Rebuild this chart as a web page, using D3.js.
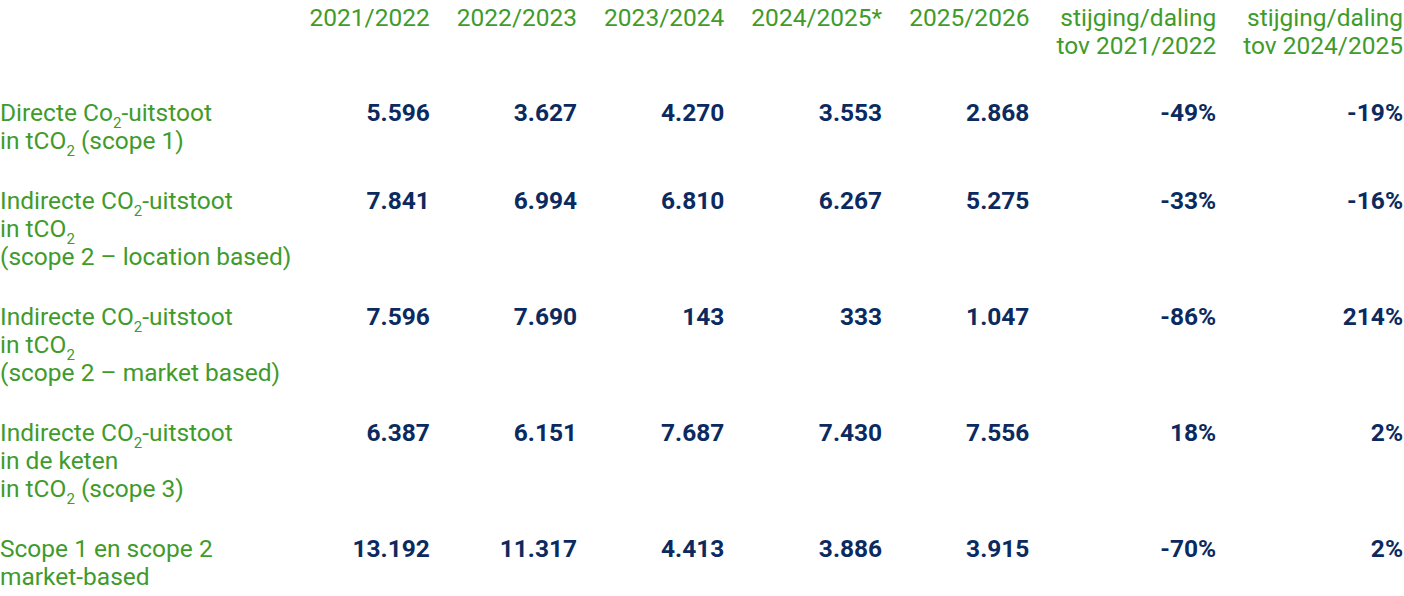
<!DOCTYPE html>
<html>
<head>
<meta charset="utf-8">
<script src="https://cdn.jsdelivr.net/npm/d3@7"></script>
<style>
  body { margin: 0; background: #fff; }
  svg { display: block; font-family: Roboto, sans-serif; }
  .lbl { fill: #3f9b2b; font-size: 24.5px; font-weight: 400; }
  .val { fill: #0b2a5f; font-size: 24.5px; font-weight: 700; }
</style>
</head>
<body>
<svg id="table"></svg>
<script>
// Column headers (each entry = lines of the header)
var columns = [
    ["2021/2022"],
    ["2022/2023"],
    ["2023/2024"],
    ["2024/2025*"],
    ["2025/2026"],
    ["stijging/daling", "tov 2021/2022"],
    ["stijging/daling", "tov 2024/2025"]
];

// Row labels, "_2" marks a subscript 2
var rowLabels = [
    ["Directe Co_2-uitstoot", "in tCO_2 (scope 1)"],
    ["Indirecte CO_2-uitstoot", "in tCO_2", "(scope 2 – location based)"],
    ["Indirecte CO_2-uitstoot", "in tCO_2", "(scope 2 – market based)"],
    ["Indirecte CO_2-uitstoot", "in de keten", "in tCO_2 (scope 3)"],
    ["Scope 1 en scope 2", "market-based"]
];

// Values per column (tCO2)
var v2122 = [5596, 7841, 7596, 6387, 13192];
var v2223 = [3627, 6994, 7690, 6151, 11317];
var v2324 = [4270, 6810, 143, 7687, 4413];
var v2425 = [3553, 6267, 333, 7430, 3886];
var v2526 = [2868, 5275, 1047, 7556, 3915];
// Change in percent
var chg2122 = [-49, -33, -86, 18, -70];
var chg2425 = [-19, -16, 214, 2, 2];

var w = 1404;
var h = 596;
var lineH = 28;
var rowGap = 32;
var colGap = 27;
var headBase = 26;
var firstRowBase = 121;
var subShift = 7;

var nl = d3.formatLocale({
    decimal: ",", thousands: ".", grouping: [3], currency: ["€", ""], minus: "-"
});
var fmtNum = nl.format(",d");
var fmtPct = function(d) { return nl.format("d")(d) + "%"; };

var series = [v2122, v2223, v2324, v2425, v2526, chg2122, chg2425];
var formats = [fmtNum, fmtNum, fmtNum, fmtNum, fmtNum, fmtPct, fmtPct];

var svg = d3.select("#table").attr("width", w).attr("height", h);

// write a line of text, turning "_2" into a subscript
var writeLine = function(sel, str) {
    var lowered = false;
    str.split(/(_2)/).forEach(function(part) {
        if (part === "_2") {
            sel.append("tspan")
                .attr("font-size", 15)
                .attr("dy", subShift)
                .text("2");
            lowered = true;
        } else if (part.length) {
            var t = sel.append("tspan").text(part);
            if (lowered) {
                t.attr("dy", -subShift);
                lowered = false;
            }
        }
    });
};

// Row baselines from the number of lines in each row
var rowTops = [];
rowLabels.reduce(function(y, lines) {
    rowTops.push(y);
    return y + lines.length * lineH + rowGap;
}, firstRowBase);

// Measure each column's widest text so columns are laid out from the right
var measure = svg.append("g");
var colWidths = columns.map(function(head, ci) {
    var texts = head.concat(series[ci].map(formats[ci]));
    return d3.max(texts, function(t, i) {
        var node = measure.append("text")
            .attr("class", i < head.length ? "lbl" : "val")
            .text(t).node();
        return node.getComputedTextLength();
    });
});
measure.remove();

var colRight = [];
var r = w - 1;
for (var ci = columns.length - 1; ci >= 0; ci--) {
    colRight[ci] = r;
    r -= colWidths[ci] + colGap;
}
var x = d3.scaleOrdinal().domain(d3.range(columns.length)).range(colRight);
var y = d3.scaleOrdinal().domain(d3.range(rowLabels.length)).range(rowTops);

// Headers
var head = svg.append("g").selectAll("text")
    .data(columns)
    .enter()
    .append("text")
    .attr("class", "lbl")
    .attr("text-anchor", "end")
    .attr("transform", function(d, i) {
        return "translate(" + x(i) + "," + headBase + ")";
    });
head.selectAll("tspan")
    .data(function(d) { return d; })
    .enter()
    .append("tspan")
    .attr("x", 0)
    .attr("y", function(d, i) { return i * lineH; })
    .text(function(d) { return d; });

// Row labels
svg.append("g").selectAll("g")
    .data(rowLabels)
    .enter()
    .append("g")
    .attr("transform", function(d, i) { return "translate(0," + y(i) + ")"; })
    .each(function(lines) {
        var g = d3.select(this);
        lines.forEach(function(line, li) {
            var t = g.append("text")
                .attr("class", "lbl")
                .attr("x", 0)
                .attr("y", li * lineH);
            writeLine(t, line);
        });
    });

// Values
series.forEach(function(vals, ci) {
    svg.append("g").selectAll("text")
        .data(vals)
        .enter()
        .append("text")
        .attr("class", "val")
        .attr("text-anchor", "end")
        .attr("x", x(ci))
        .attr("y", function(d, i) { return y(i); })
        .text(formats[ci]);
});
</script>
</body>
</html>
